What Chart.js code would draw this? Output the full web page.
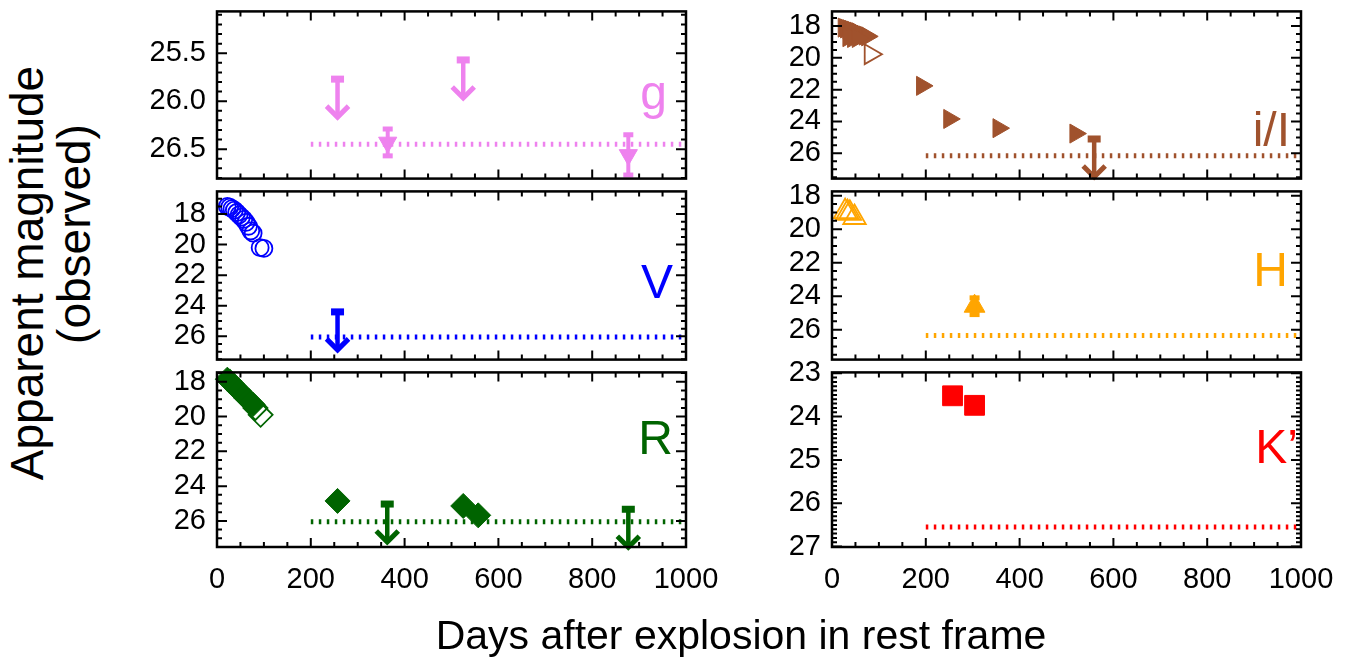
<!DOCTYPE html>
<html lang="en">
<head>
<meta charset="UTF-8">
<title>Light curves</title>
<script src="https://cdn.jsdelivr.net/npm/chart.js"></script>
<style>
  body { margin: 0; background: #fff; }
  #wrap { position: relative; width: 1370px; height: 668px; overflow: hidden;
          font-family: "Liberation Sans", Arial, sans-serif; color: #000; }
  #wrap canvas { position: absolute; }
  .title { position: absolute; white-space: nowrap; line-height: 1; }
  .ytitle { transform: translate(-50%, -50%) rotate(-90deg); }
</style>
</head>
<body>
<div id="wrap">
  <canvas id="pg"></canvas>
  <canvas id="pv"></canvas>
  <canvas id="pr"></canvas>
  <canvas id="pi"></canvas>
  <canvas id="ph"></canvas>
  <canvas id="pk"></canvas>
  <div class="title" id="xtitle" style="font-size:41px; left:741px; top:615px; transform:translateX(-50%);">Days after explosion in rest frame</div>
  <div class="title ytitle" style="font-size:46px; left:27px; top:273px;">Apparent magnitude</div>
  <div class="title ytitle" style="font-size:46px; left:74px; top:234px;">(observed)</div>
</div>

<script>
// ---------------- data ----------------
const xTicks = [0, 200, 400, 600, 800, 1000];

// g
const gTicks   = [25.5, 26.0, 26.5];
const gDetDay  = [364, 877];
const gDetMag  = [26.43, 26.56];
const gDetErr  = [0.14, 0.21];
const gLimDay  = [257, 525];
const gLimMag  = [25.77, 25.57];
const gFloor   = 26.45;

// V
const vTicks   = [18, 20, 22, 24, 26];
const vDay     = [22, 27, 32, 37, 42, 47, 52, 57, 62, 67, 72, 77, 92, 100];
const vMag     = [17.5, 17.55, 17.65, 17.75, 17.9, 18.05, 18.2, 18.35, 18.55, 18.8, 19.1, 19.25, 20.2, 20.25];
const vLimDay  = [257];
const vLimMag  = [24.4];
const vFloor   = 26.05;

// R
const rTicks   = [18, 20, 22, 24, 26];
const rDay     = [22, 27, 32, 37, 42, 47, 52, 57, 62, 67, 72, 77];
const rMag     = [17.85, 17.95, 18.1, 18.25, 18.4, 18.5, 18.65, 18.8, 18.95, 19.05, 19.2, 19.3];
const rOpenDay = [82, 93];
const rOpenMag = [19.5, 19.9];
const rLateDay = [257, 525, 557];
const rLateMag = [24.85, 25.14, 25.68];
const rLimDay  = [363, 877];
const rLimMag  = [25.03, 25.33];
const rFloor   = 26.05;

// i/I
const iTicks   = [18, 20, 22, 24, 26];
const iDay     = [25, 30, 35, 40, 45, 50, 55, 60, 65, 70, 75, 35, 45, 55];
const iMag     = [18.1, 18.15, 18.2, 18.25, 18.3, 18.35, 18.4, 18.5, 18.55, 18.6, 18.65, 18.7, 18.75, 18.75];
const iOpenDay = [82];
const iOpenMag = [19.77];
const iLateDay = [192, 250, 355, 519];
const iLateMag = [21.76, 23.84, 24.42, 24.76];
const iLimDay  = [559];
const iLimMag  = [25.1];
const iFloor   = 26.15;

// H
const hTicks   = [18, 20, 22, 24, 26];
const hOpenDay = [28, 33, 38, 48];
const hOpenMag = [18.95, 19.0, 19.05, 19.3];
const hDetDay  = [304];
const hDetMag  = [24.6];
const hDetErr  = [0.5];
const hFloor   = 26.35;

// K'
const kTicks   = [23, 24, 25, 26, 27];
const kDay     = [257, 304];
const kMag     = [23.52, 23.74];
const kFloor   = 26.55;

// ---------------- layout ----------------
const COL_X  = [217, 832];
const ROW_Y  = [5, 185, 366, 547];
const PLOT_W = 469;
const PAD_L = 110, PAD_R = 60, PAD_T = 22;
const FONT = '"Liberation Sans", Arial, sans-serif';

const pts = (xs, ys) => xs.map((x, i) => ({x: x, y: ys[i]}));

function marks(xs, ys, color, style, r, rot, open) {
    return {
        data: pts(xs, ys),
        pointStyle: style,
        pointRadius: r,
        pointHoverRadius: r,
        pointRotation: rot,
        pointBackgroundColor: open ? 'rgba(0,0,0,0)' : color,
        pointBorderColor: color,
        pointBorderWidth: open ? 1.8 : 1,
        showLine: false,
        clip: false
    };
}

function floorLine(mag, color) {
    return {
        data: [{x: 200, y: mag}, {x: 1000, y: mag}],
        showLine: true,
        borderColor: color,
        borderWidth: 5,
        borderDash: [2.5, 5.5],
        pointRadius: 0,
        clip: false
    };
}

// frame, inward ticks, error bars, upper-limit arrows and band label
const panelBox = {
    id: 'panelBox',
    afterDatasetsDraw(chart, args, o) {
        const {ctx, chartArea: a, scales: {x, y}} = chart;
        ctx.save();
        ctx.fillStyle = o.color;
        ctx.strokeStyle = o.color;

        // error bars
        (o.errDay || []).forEach((d, i) => {
            const px = x.getPixelForValue(d);
            const y1 = y.getPixelForValue(o.errMag[i] - o.err[i]);
            const y2 = y.getPixelForValue(o.errMag[i] + o.err[i]);
            ctx.lineWidth = 4;
            ctx.beginPath(); ctx.moveTo(px, y1); ctx.lineTo(px, y2); ctx.stroke();
            ctx.fillRect(px - 5, y1 - 2.5, 10, 5);
            ctx.fillRect(px - 5, y2 - 2.5, 10, 5);
        });

        // upper limits
        (o.limDay || []).forEach((d, i) => {
            const px = x.getPixelForValue(d);
            const py = y.getPixelForValue(o.limMag[i]);
            ctx.fillRect(px - 6.5, py - 3.5, 13, 7);
            ctx.lineWidth = 4.5;
            ctx.beginPath(); ctx.moveTo(px, py); ctx.lineTo(px, py + 37); ctx.stroke();
            ctx.lineWidth = 5;
            ctx.beginPath();
            ctx.moveTo(px - 11, py + 27);
            ctx.lineTo(px, py + 38);
            ctx.lineTo(px + 11, py + 27);
            ctx.stroke();
        });

        // frame
        ctx.strokeStyle = '#000';
        ctx.lineWidth = 2.5;
        ctx.strokeRect(a.left, a.top, a.right - a.left, a.bottom - a.top);

        // ticks
        ctx.lineWidth = 2;
        ctx.beginPath();
        for (let v = 0; v <= 1000; v += 50) {
            const px = x.getPixelForValue(v);
            const len = v % 200 === 0 ? 9 : 5;
            ctx.moveTo(px, a.bottom); ctx.lineTo(px, a.bottom - len);
            ctx.moveTo(px, a.top); ctx.lineTo(px, a.top + len);
        }
        const step = o.minor;
        for (let k = Math.ceil(y.min / step - 1e-6); k * step <= y.max + 1e-6; k++) {
            const v = k * step;
            const py = y.getPixelForValue(v);
            const major = o.ticks.some(t => Math.abs(t - v) < 1e-6);
            const len = major ? 10 : 5;
            ctx.moveTo(a.left, py); ctx.lineTo(a.left + len, py);
            ctx.moveTo(a.right, py); ctx.lineTo(a.right - len, py);
        }
        ctx.stroke();

        // band name
        ctx.fillStyle = o.color;
        ctx.font = '48px ' + FONT;
        ctx.textAlign = 'right';
        ctx.textBaseline = 'alphabetic';
        ctx.fillText(o.label, a.right - o.lx, a.top + o.ly);
        ctx.restore();
    }
};

function makePanel(id, col, row, yMin, yMax, ticks, dec, datasets, box) {
    const canvas = document.getElementById(id);
    const bottom = row === 2;
    const h = ROW_Y[row + 1] - ROW_Y[row];
    const padB = bottom ? 70 : 22;
    canvas.width = PAD_L + PLOT_W + PAD_R;
    canvas.height = PAD_T + h + padB;
    canvas.style.left = (COL_X[col] - PAD_L) + 'px';
    canvas.style.top = (ROW_Y[row] - PAD_T) + 'px';

    new Chart(canvas, {
        type: 'scatter',
        data: { datasets: datasets },
        options: {
            responsive: false,
            animation: false,
            devicePixelRatio: 1,
            events: [],
            layout: { padding: { left: 0, right: PAD_R, top: PAD_T, bottom: bottom ? 20 : padB } },
            plugins: {
                legend: { display: false },
                tooltip: { enabled: false },
                panelBox: box
            },
            scales: {
                x: {
                    type: 'linear', min: 0, max: 1000,
                    display: bottom,
                    afterBuildTicks: s => { s.ticks = xTicks.map(v => ({value: v})); },
                    afterFit: s => { if (bottom) s.height = 50; },
                    grid: { display: false, drawTicks: false },
                    border: { display: false },
                    ticks: { color: '#000', padding: 16, maxRotation: 0, font: { family: FONT, size: 29 },
                             callback: v => String(v) }
                },
                y: {
                    type: 'linear', reverse: true, min: yMin, max: yMax,
                    afterBuildTicks: s => { s.ticks = ticks.map(v => ({value: v})); },
                    afterFit: s => { s.width = PAD_L; },
                    grid: { display: false, drawTicks: false },
                    border: { display: false },
                    ticks: { color: '#000', padding: 11, font: { family: FONT, size: 29 },
                             callback: v => Number(v).toFixed(dec) }
                }
            }
        },
        plugins: [panelBox]
    });
}

const VIOLET = '#EE82EE', BLUE = '#0000FF', GREEN = '#006400',
      SIENNA = '#A0522D', ORANGE = '#FFA500', RED = '#FF0000';

makePanel('pg', 0, 0, 25.064, 26.807, gTicks, 1, [
    marks(gDetDay, gDetMag, VIOLET, 'triangle', 10.5, 180, false),
    floorLine(gFloor, VIOLET)
], { color: VIOLET, label: 'g', lx: 19, ly: 98, minor: 0.1, ticks: gTicks,
     errDay: gDetDay, errMag: gDetMag, err: gDetErr, limDay: gLimDay, limMag: gLimMag });

makePanel('pv', 0, 1, 16.52, 27.52, vTicks, 0, [
    marks(vDay, vMag, BLUE, 'circle', 8.5, 0, true),
    floorLine(vFloor, BLUE)
], { color: BLUE, label: 'V', lx: 13, ly: 107, minor: 0.5, ticks: vTicks,
     limDay: vLimDay, limMag: vLimMag });

makePanel('pr', 0, 2, 17.46, 27.5, rTicks, 0, [
    marks(rDay, rMag, GREEN, 'rectRot', 12, 0, false),
    marks(rOpenDay, rOpenMag, GREEN, 'rectRot', 12, 0, true),
    marks(rLateDay, rLateMag, GREEN, 'rectRot', 12.5, 0, false),
    floorLine(rFloor, GREEN)
], { color: GREEN, label: 'R', lx: 13, ly: 82, minor: 0.5, ticks: rTicks,
     limDay: rLimDay, limMag: rLimMag });

makePanel('pi', 1, 0, 17.08, 27.59, iTicks, 0, [
    marks(iDay, iMag, SIENNA, 'triangle', 11, 90, false),
    marks(iOpenDay, iOpenMag, SIENNA, 'triangle', 11.5, 90, true),
    marks(iLateDay, iLateMag, SIENNA, 'triangle', 11, 90, false),
    floorLine(iFloor, SIENNA)
], { color: SIENNA, label: 'i/I', lx: 11, ly: 135, minor: 0.5, ticks: iTicks,
     limDay: iLimDay, limMag: iLimMag });

makePanel('ph', 1, 1, 17.74, 27.79, hTicks, 0, [
    marks(hOpenDay, hOpenMag, ORANGE, 'triangle', 13, 0, true),
    marks(hDetDay, hDetMag, ORANGE, 'triangle', 12, 0, false),
    floorLine(hFloor, ORANGE)
], { color: ORANGE, label: 'H', lx: 13, ly: 95, minor: 0.5, ticks: hTicks,
     errDay: hDetDay, errMag: hDetMag, err: hDetErr });

makePanel('pk', 1, 2, 22.98, 27.01, kTicks, 0, [
    marks(kDay, kMag, RED, 'rect', 14, 0, false),
    floorLine(kFloor, RED)
], { color: RED, label: 'K\u2019', lx: 3, ly: 91, minor: 0.1, ticks: kTicks });
</script>
</body>
</html>
